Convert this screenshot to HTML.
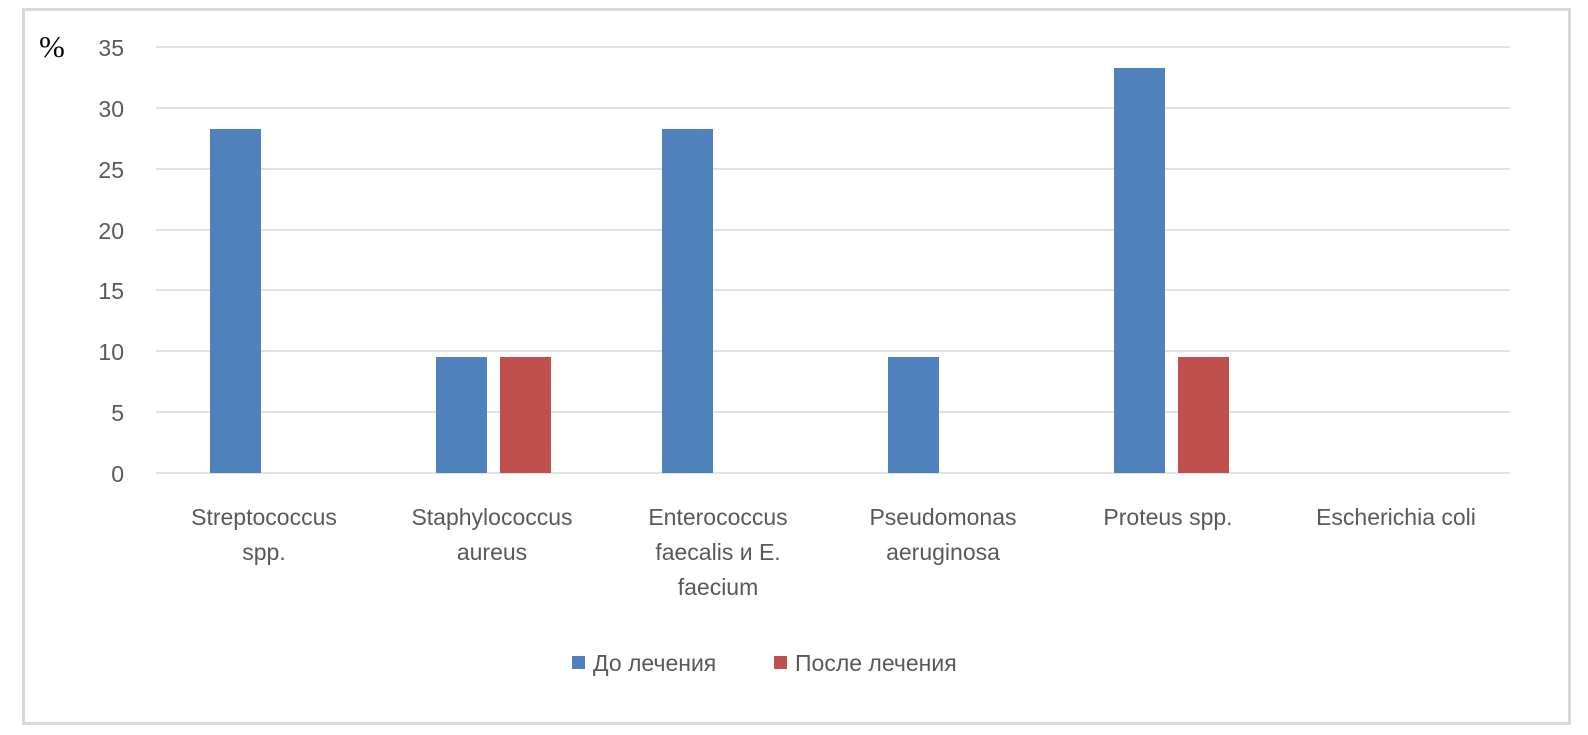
<!DOCTYPE html>
<html><head><meta charset="utf-8"><style>
html,body{margin:0;padding:0;background:#fff;}
body{width:1588px;height:730px;overflow:hidden;}
text{font-family:"Liberation Sans",sans-serif;fill:#595959;}
</style></head><body>
<svg width="1588" height="730" xmlns="http://www.w3.org/2000/svg">
<rect x="23.5" y="9.5" width="1546" height="714" fill="#fff" stroke="#d9d9d9" stroke-width="3"/>
<g stroke="#d9d9d9" stroke-width="1.5">
<line x1="156" x2="1510" y1="47" y2="47"/>
<line x1="156" x2="1510" y1="108" y2="108"/>
<line x1="156" x2="1510" y1="169" y2="169"/>
<line x1="156" x2="1510" y1="230" y2="230"/>
<line x1="156" x2="1510" y1="290" y2="290"/>
<line x1="156" x2="1510" y1="351" y2="351"/>
<line x1="156" x2="1510" y1="412" y2="412"/>
<line x1="156" x2="1510" y1="473" y2="473"/>
</g>
<g font-size="23" text-anchor="end">
<text x="124" y="56">35</text>
<text x="124" y="117">30</text>
<text x="124" y="178">25</text>
<text x="124" y="239">20</text>
<text x="124" y="299">15</text>
<text x="124" y="360">10</text>
<text x="124" y="421">5</text>
<text x="124" y="482">0</text>
</g>
<text x="39" y="57" font-size="31" style="font-family:'Liberation Serif',serif;fill:#000">%</text>
<g fill="#4f81bd">
<rect x="210" y="129" width="51" height="344"/>
<rect x="436" y="357" width="51" height="116"/>
<rect x="662" y="129" width="51" height="344"/>
<rect x="888" y="357" width="51" height="116"/>
<rect x="1114" y="68" width="51" height="405"/>
</g>
<g fill="#c0504d">
<rect x="500" y="357" width="51" height="116"/>
<rect x="1178" y="357" width="51" height="116"/>
</g>
<g font-size="23" text-anchor="middle">
<text x="264" y="525">Streptococcus</text><text x="264" y="560">spp.</text>
<text x="492" y="525">Staphylococcus</text><text x="492" y="560">aureus</text>
<text x="718" y="525">Enterococcus</text><text x="718" y="560">faecalis и E.</text><text x="718" y="595">faecium</text>
<text x="943" y="525">Pseudomonas</text><text x="943" y="560">aeruginosa</text>
<text x="1168" y="525">Proteus spp.</text>
<text x="1396" y="525">Escherichia coli</text>
</g>
<rect x="572" y="656" width="13" height="13" fill="#4f81bd"/>
<text x="593" y="671" font-size="23">До лечения</text>
<rect x="774" y="656" width="13" height="13" fill="#c0504d"/>
<text x="795" y="671" font-size="23">После лечения</text>
</svg>
</body></html>
